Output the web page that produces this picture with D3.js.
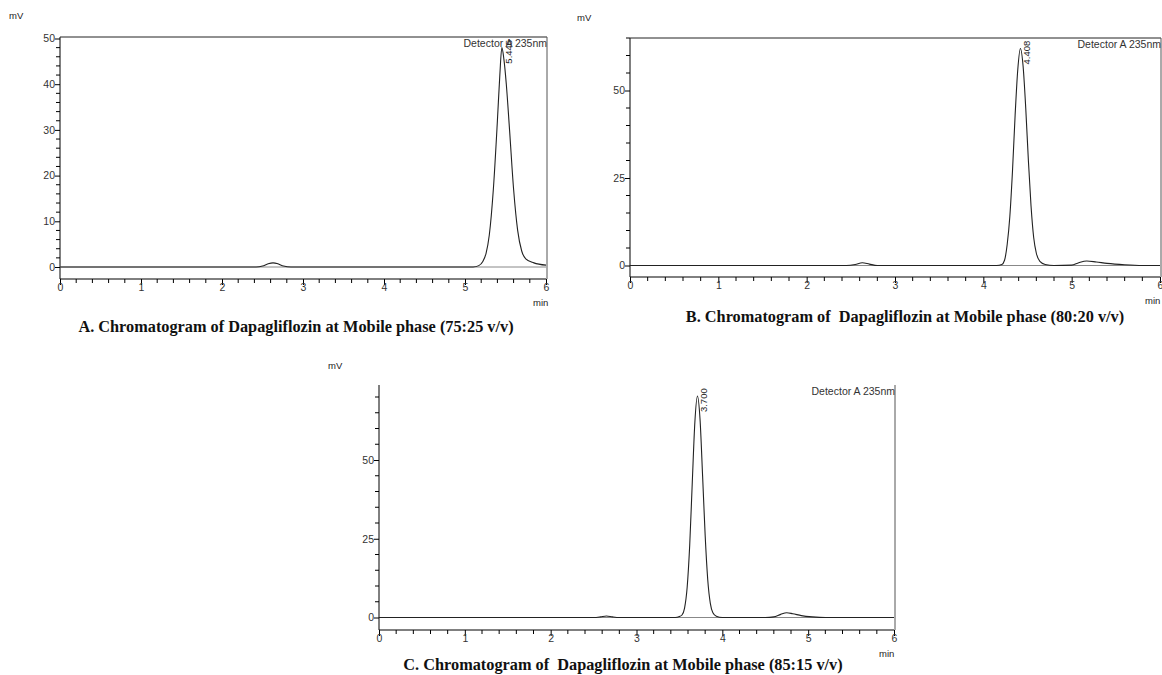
<!DOCTYPE html>
<html>
<head>
<meta charset="utf-8">
<script src="https://cdn.jsdelivr.net/npm/d3@7"></script>
<style>
  body { margin: 0; background: #fff; }
  svg { display: block; }
  .tick-label { font-family: "Liberation Sans", Arial, sans-serif; font-size: 10.5px; fill: #333; }
  .small-label { font-family: "Liberation Sans", Arial, sans-serif; font-size: 9.5px; fill: #222; }
  .title { font-family: "Liberation Serif", "Times New Roman", serif; font-weight: bold; font-size: 16.3px; fill: #111; white-space: pre; }
</style>
</head>
<body>
<svg id="canvas" width="1162" height="675"></svg>
<script>
// ---- data: [time (min), signal (mV)] ----
const traceA = [
  [0, 0], [1, 0], [2, 0], [2.42, 0], [2.5, 0.2], [2.57, 0.7], [2.63, 0.9], [2.69, 0.7], [2.76, 0.2], [2.85, 0],
  [3.5, 0], [4.5, 0], [5.1, 0], [5.17, 0.3], [5.22, 1.2], [5.26, 3], [5.3, 7], [5.35, 17], [5.4, 32], [5.43, 42],
  [5.455, 48], [5.48, 45.5], [5.51, 40], [5.55, 30], [5.6, 17], [5.65, 8], [5.7, 3.5], [5.75, 1.8], [5.85, 0.9], [6, 0.4]
];
const traceB = [
  [0, 0], [1, 0], [2, 0], [2.45, 0], [2.55, 0.3], [2.63, 0.8], [2.71, 0.4], [2.8, 0], [3.5, 0], [4.15, 0],
  [4.21, 0.3], [4.24, 1.5], [4.27, 6], [4.3, 14], [4.33, 27], [4.36, 43], [4.39, 56], [4.42, 62], [4.45, 57],
  [4.48, 45], [4.51, 30], [4.54, 17], [4.57, 8], [4.6, 3.5], [4.64, 1.2], [4.7, 0.3], [4.8, 0], [5.0, 0.1],
  [5.08, 0.8], [5.17, 1.3], [5.28, 1.0], [5.4, 0.6], [5.6, 0.2], [5.8, 0], [6, 0]
];
const traceC = [
  [0, 0], [1, 0], [2, 0], [2.5, 0], [2.58, 0.2], [2.65, 0.5], [2.72, 0.2], [2.8, 0], [3.45, 0], [3.5, 0.3],
  [3.53, 0.8], [3.56, 3], [3.59, 9.5], [3.62, 23], [3.65, 43], [3.68, 62], [3.71, 70.3], [3.74, 63], [3.77, 45],
  [3.8, 26], [3.83, 12], [3.86, 4.5], [3.89, 1.5], [3.93, 0.4], [4.0, 0], [4.5, 0], [4.6, 0.2], [4.68, 1.0],
  [4.75, 1.5], [4.82, 1.2], [4.92, 0.6], [5.05, 0.2], [5.2, 0], [6, 0]
];

// peak labels: retention time shown, with apex [time, mV]
const peakA = { label: "5.445", at: [5.455, 48] };
const peakB = { label: "4.408", at: [4.42, 62] };
const peakC = { label: "3.700", at: [3.71, 70.3] };

// tick values
const xTicks = [0, 1, 2, 3, 4, 5, 6];
const yTicksA = [0, 10, 20, 30, 40, 50];
const yTicksBC = [0, 25, 50];

const titles = [
  "A. Chromatogram of Dapagliflozin at Mobile phase (75:25 v/v)",
  "B. Chromatogram of  Dapagliflozin at Mobile phase (80:20 v/v)",
  "C. Chromatogram of  Dapagliflozin at Mobile phase (85:15 v/v)"
];

const svg = d3.select("#canvas");

// one chromatogram panel
function drawPanel(p) {
  const g = svg.append("g");
  const x = d3.scaleLinear().domain([0, 6]).range([p.left, p.right]);
  const y = d3.scaleLinear().domain([0, 50]).range([p.zero, p.fifty]);

  // x axis (major ticks every 1 min, minor every 0.2)
  const xAxis = d3.axisBottom(x).tickValues(xTicks).tickSize(6).tickFormat(d3.format("d"));
  const xg = g.append("g").attr("transform", `translate(0,${p.axisY})`).call(xAxis);
  xg.select(".domain").attr("d", `M${p.left},0H${p.right}`).attr("stroke", "#000");
  xg.selectAll("text").attr("class", "tick-label").attr("dy", "0.25em");
  const xMinor = d3.range(0, 31).map(i => i / 5).filter(v => !xTicks.includes(v));
  xg.selectAll(".xminor").data(xMinor).enter().append("line")
    .attr("x1", d => x(d)).attr("x2", d => x(d))
    .attr("y1", 0).attr("y2", 4).attr("stroke", "#000");

  // y axis
  const yAxis = d3.axisLeft(y).tickValues(p.yTicks).tickSize(5).tickFormat(d3.format("d"));
  const yg = g.append("g").attr("transform", `translate(${p.left},0)`).call(yAxis);
  yg.select(".domain").attr("d", `M0,${p.top}V${p.axisY}`).attr("stroke", "#000");
  yg.selectAll("text").attr("class", "tick-label").attr("x", -5);
  const yMax = y.invert(p.top);
  const yMinor = d3.range(0, Math.floor(yMax / p.minorStep) + 1).map(i => i * p.minorStep)
    .filter(v => !p.yTicks.includes(v));
  yg.selectAll(".yminor").data(yMinor).enter().append("line")
    .attr("x1", -4).attr("x2", 0)
    .attr("y1", d => y(d)).attr("y2", d => y(d)).attr("stroke", "#000");

  // frame pieces
  if (p.topLine) {
    g.append("line").attr("x1", p.left).attr("x2", p.right + 1).attr("y1", p.top).attr("y2", p.top)
      .attr("stroke", "#222");
  }
  g.append("line").attr("x1", p.right + 1).attr("x2", p.right + 1).attr("y1", p.top).attr("y2", p.axisY)
    .attr("stroke", "#555");

  // baseline at zero
  g.append("line").attr("x1", p.left).attr("x2", p.right).attr("y1", y(0)).attr("y2", y(0))
    .attr("stroke", "#888").attr("stroke-width", 1);

  // signal trace
  const line = d3.line().x(d => x(d[0])).y(d => y(d[1])).curve(d3.curveMonotoneX);
  g.append("path").datum(p.trace).attr("d", line)
    .attr("fill", "none").attr("stroke", "#222").attr("stroke-width", 1.1);

  // labels
  g.append("text").attr("class", "small-label").attr("x", p.mvX).attr("y", p.mvY).text("mV");
  g.append("text").attr("class", "small-label").attr("x", p.minX).attr("y", p.axisY + 27).text("min");
  g.append("text").attr("class", "tick-label").attr("text-anchor", "end")
    .attr("x", p.right + 1).attr("y", p.top + 10).text("Detector A 235nm");
  g.append("text").attr("class", "small-label")
    .attr("transform", `translate(${x(p.peak.at[0]) + 10},${y(p.peak.at[1]) + 16}) rotate(-90)`)
    .text(p.peak.label);

  svg.append("text").attr("class", "title").attr("text-anchor", "middle")
    .attr("x", p.titleX).attr("y", p.titleY).text(p.title);
}

drawPanel({ trace: traceA, peak: peakA, yTicks: yTicksA, minorStep: 2, topLine: true,
  left: 60, right: 546, zero: 267, fifty: 38.5, top: 37, axisY: 279,
  mvX: 9, mvY: 19, minX: 533, titleX: 296, titleY: 332, title: titles[0] });

drawPanel({ trace: traceB, peak: peakB, yTicks: yTicksBC, minorStep: 5, topLine: true,
  left: 630, right: 1160, zero: 265.5, fifty: 90.5, top: 38, axisY: 277,
  mvX: 577, mvY: 21, minX: 1145, titleX: 905, titleY: 322, title: titles[1] });

drawPanel({ trace: traceC, peak: peakC, yTicks: yTicksBC, minorStep: 5, topLine: false,
  left: 379, right: 894, zero: 617.5, fifty: 460, top: 385, axisY: 630,
  mvX: 328, mvY: 369, minX: 879, titleX: 623, titleY: 670, title: titles[2] });
</script>
</body>
</html>
